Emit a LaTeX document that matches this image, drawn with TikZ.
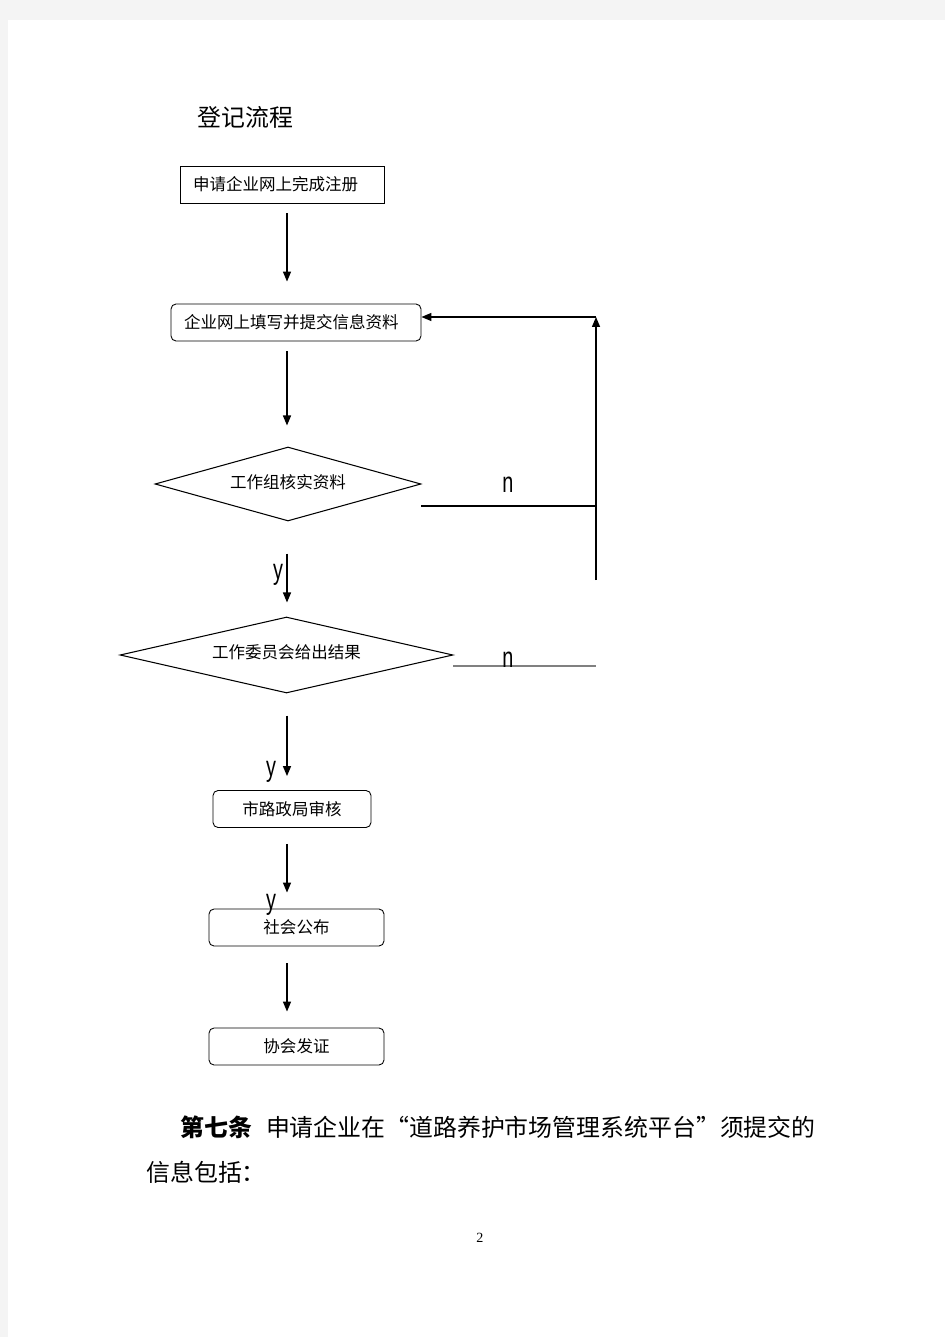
\documentclass[tikz,border=0pt]{standalone}
\usepackage{fontspec}
\usepackage{graphicx}
\usetikzlibrary{shapes.geometric,arrows.meta}
\setmainfont{Noto Sans CJK SC}
\newfontfamily\latinsans{Liberation Sans}
\newfontfamily\numfont{Liberation Serif}
\definecolor{pagebg}{RGB}{244,244,244}
\newcommand{\boxfont}{\fontsize{9.4}{11}\selectfont}
\newcommand{\bigfont}{\fontsize{13.6}{16}\selectfont}
\newcommand{\yn}[1]{\scalebox{1}[1.45]{\latinsans\fontsize{11.3}{13}\selectfont #1}}

\begin{document}
\begin{tikzpicture}[x=0.02cm, y=-0.02cm,
  stepbox/.style={draw, line width=0.5pt, minimum height=0.74cm, font=\boxfont},
  roundbox/.style={stepbox, rounded corners=0.1cm},
  decision/.style={diamond, draw, line width=0.6pt, inner sep=0pt, font=\boxfont},
  flow/.style={line width=0.8pt, -{Triangle[length=0.2cm, width=0.16cm]}},
  plain/.style={inner sep=0pt}]
\useasboundingbox (0,0) rectangle (945,1337);

% Page
\fill[pagebg] (0,0) rectangle (945,1337);
\fill[white] (8,20) rectangle (945,1337);

\node[plain, anchor=west, font=\bigfont] (title) at (197,117) {登记流程};

% Boxes
\node[stepbox, text width=3.56cm, inner xsep=0.26cm, align=left] (reg) at (282,184.5) {申请企业网上完成注册};
\node[roundbox, text width=4.48cm, inner xsep=0.26cm, align=left] (fill) at (296,322.5) {企业网上填写并提交信息资料};
\node[decision, aspect=3.6, minimum width=5.32cm, minimum height=1.48cm] (chk) at (288,484) {\raisebox{0.1cm}{工作组核实资料}};
\node[decision, aspect=4.4, minimum width=6.66cm, minimum height=1.52cm] (app) at (286.5,655) {\raisebox{0.12cm}{工作委员会给出结果}};
\node[roundbox, minimum width=3.16cm] (audit) at (292,809) {市路政局审核};
\node[roundbox, minimum width=3.5cm] (pub) at (296.5,927.5) {社会公布};
\node[roundbox, minimum width=3.5cm] (cert) at (296.5,1046.5) {协会发证};

% Main line
\coordinate (spine) at (287,0);
\draw[flow, shorten <=0.2cm, shorten >=0.44cm] (reg.south -| spine) -- (fill.north -| spine);
\draw[flow, shorten <=0.2cm, shorten >=0.42cm] (fill.south -| spine) -- (chk.north -| spine);
\draw[flow, shorten <=0.64cm, shorten >=0.28cm] (chk.south -| spine) -- (app.north -| spine);
\draw[flow, shorten <=0.44cm, shorten >=0.28cm] (app.south -| spine) -- (audit.north -| spine);
\draw[flow, shorten <=0.32cm, shorten >=0.32cm] (audit.south -| spine) -- (pub.north -| spine);
\draw[flow, shorten <=0.34cm, shorten >=0.32cm] (pub.south -| spine) -- (cert.north -| spine);

% Return line
\coordinate (nA) at (421,506);
\coordinate (nB) at (596,506);
\coordinate (back) at (596,580);
\coordinate (top) at (596,317);
\draw[line width=1pt] (nA) -- (nB);
\draw[flow] (back) -- (top);
\draw[flow] (top) -- (top -| fill.east);
\coordinate (mA) at (453,666);
\coordinate (mB) at (596,666);
\draw[gray, line width=0.6pt] (mA) -- (mB);

% Labels
\node[plain] (n1) at (508,485) {\yn{n}};
\node[plain] (n2) at (508,660) {\yn{n}};
\node[plain] (y1) at (278,575) {\yn{y}};
\node[plain] (y2) at (271,772) {\yn{y}};
\node[plain] (y3) at (271,905) {\yn{y}};

% Text below
\node[plain, anchor=west, font=\bigfont] (art) at (180,1127) {{\bfseries 第七条}\hspace{0.28cm}申请企业在“道路养护市场管理系统平台”须提交的};
\node[plain, anchor=west, font=\bigfont] (art2) at (146,1172) {信息包括：};
\node[plain, font=\numfont\fontsize{8}{9}\selectfont] (pg) at (480,1238) {2};
\end{tikzpicture}
\end{document}
